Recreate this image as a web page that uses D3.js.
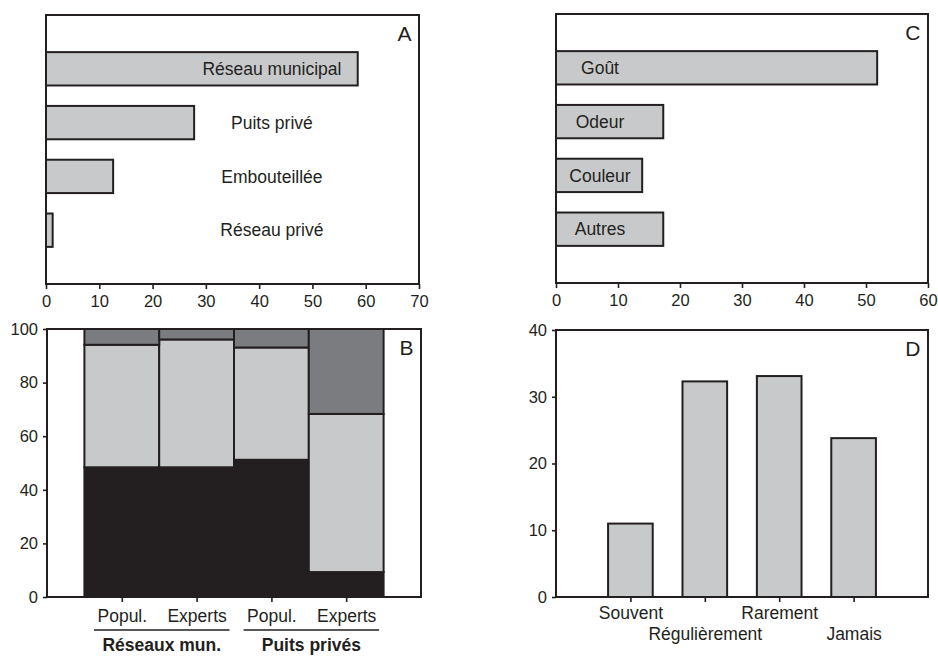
<!DOCTYPE html>
<html>
<head>
<meta charset="utf-8">
<script src="https://cdn.jsdelivr.net/npm/d3@7"></script>
<style>
  body { margin: 0; background: #fff; }
  svg text { font-family: "Liberation Sans", Arial, Helvetica, sans-serif; fill: #231f20; }
</style>
</head>
<body>
<svg id="fig" width="938" height="656"></svg>
<script>
// A — source de l'eau consommée (%)
const sourceCategories = ["Réseau municipal", "Puits privé", "Embouteillée", "Réseau privé"];
const sourceValues = [58.5, 27.8, 12.6, 1.25];
const sourceTicks = [0, 10, 20, 30, 40, 50, 60, 70];

// C — motifs d'insatisfaction (%)
const reasonCategories = ["Goût", "Odeur", "Couleur", "Autres"];
const reasonValues = [51.8, 17.3, 13.9, 17.3];
const reasonTicks = [0, 10, 20, 30, 40, 50, 60];

// B — répartition des réponses (%), population vs experts
const perceptionColumns = ["Popul.", "Experts", "Popul.", "Experts"];
const perceptionGroups = ["Réseaux mun.", "Puits privés"];
const shareLow = [48.4, 48.4, 51.2, 9.3];
const shareMid = [45.7, 47.7, 41.9, 59.0];
const shareHigh = [5.9, 3.9, 6.9, 31.7];
const perceptionTicks = [0, 20, 40, 60, 80, 100];

// D — fréquence (%)
const frequencyCategories = ["Souvent", "Régulièrement", "Rarement", "Jamais"];
const frequencyValues = [11.0, 32.3, 33.1, 23.8];
const frequencyTicks = [0, 10, 20, 30, 40];

const INK = "#231f20", LIGHT = "#c8c9cb", DARK = "#7b7c80";
const TICK_FONT = 16.5, LABEL_FONT = 17.5;
const svg = d3.select("#fig");

function styleAxis(g) {
  g.select(".domain").remove();
  g.selectAll(".tick line").attr("stroke", INK).attr("stroke-width", 1.6);
  g.selectAll(".tick text").style("font-size", TICK_FONT + "px").attr("fill", INK);
}

function drawFrame(g, b) {
  g.append("rect")
    .attr("x", b.left).attr("y", b.top)
    .attr("width", b.right - b.left).attr("height", b.bottom - b.top)
    .attr("fill", "none").attr("stroke", INK).attr("stroke-width", 2);
}

function panelLetter(g, b, letter) {
  g.append("text")
    .attr("x", b.right - 7.5).attr("y", b.top + 25.5)
    .attr("text-anchor", "end")
    .style("font-size", "21px")
    .text(letter);
}

// Horizontal bar panels (A and C)
function horizontalBars(b, cats, vals, ticks, labelAt, letter) {
  const g = svg.append("g");
  const x = d3.scaleLinear().domain([0, ticks[ticks.length - 1]]).range([b.left, b.right]);
  const y = d3.scalePoint().domain(cats).range([b.top, b.bottom]).padding(1);
  const h = y.step() * 0.62;

  g.selectAll("rect.bar").data(cats).join("rect")
    .attr("class", "bar")
    .attr("x", x(0))
    .attr("y", d => y(d) - h / 2)
    .attr("width", (d, i) => x(vals[i]) - x(0))
    .attr("height", h)
    .attr("fill", LIGHT).attr("stroke", INK).attr("stroke-width", 2);

  g.selectAll("text.lab").data(cats).join("text")
    .attr("class", "lab")
    .attr("x", x(labelAt))
    .attr("y", d => y(d))
    .attr("dy", "0.35em")
    .attr("text-anchor", "middle")
    .style("font-size", LABEL_FONT + "px")
    .text(d => d);

  g.append("g")
    .attr("transform", `translate(0,${b.bottom})`)
    .call(d3.axisBottom(x).tickValues(ticks).tickSize(5).tickPadding(6).tickSizeOuter(0))
    .call(styleAxis);

  drawFrame(g, b);
  panelLetter(g, b, letter);
}

horizontalBars({ left: 46, top: 15, right: 419, bottom: 284 },
  sourceCategories, sourceValues, sourceTicks, 42.4, "A");
horizontalBars({ left: 556, top: 14, right: 928, bottom: 283 },
  reasonCategories, reasonValues, reasonTicks, 7.1, "C");

// Panel B — stacked columns
(function () {
  const b = { left: 47, top: 329, right: 421, bottom: 597 };
  const g = svg.append("g");
  const idx = d3.range(perceptionColumns.length);
  const x = d3.scalePoint().domain(idx).range([b.left, b.right]).padding(1);
  const y = d3.scaleLinear().domain([0, 100]).range([b.bottom, b.top]);
  const w = x.step();

  const rows = idx.map(i => ({ i, low: shareLow[i], mid: shareMid[i], high: shareHigh[i] }));
  const keys = ["low", "mid", "high"];
  const fills = { low: INK, mid: LIGHT, high: DARK };
  const series = d3.stack().keys(keys)(rows);

  g.selectAll("g.layer").data(series).join("g")
    .attr("class", "layer")
    .attr("fill", s => fills[s.key])
    .selectAll("rect").data(s => s).join("rect")
    .attr("x", d => x(d.data.i) - w / 2)
    .attr("y", d => y(d[1]))
    .attr("width", w)
    .attr("height", d => y(d[0]) - y(d[1]))
    .attr("stroke", INK).attr("stroke-width", 2);

  g.append("g")
    .attr("transform", `translate(${b.left},0)`)
    .call(d3.axisLeft(y).tickValues(perceptionTicks).tickSize(4).tickPadding(5).tickSizeOuter(0))
    .call(styleAxis);

  const xa = g.append("g")
    .attr("transform", `translate(0,${b.bottom})`)
    .call(d3.axisBottom(x).tickFormat(i => perceptionColumns[i]).tickSize(5).tickPadding(8).tickSizeOuter(0))
    .call(styleAxis);
  xa.selectAll(".tick text").style("font-size", LABEL_FONT + "px");

  drawFrame(g, b);
  panelLetter(g, b, "B");

  // Group brackets under the column labels
  const tickTexts = xa.selectAll(".tick text").nodes();
  perceptionGroups.forEach((name, k) => {
    const first = tickTexts[k * 2].getBBox();
    const last = tickTexts[k * 2 + 1].getBBox();
    const c0 = x(k * 2), c1 = x(k * 2 + 1);
    const x0 = c0 + first.x - 3, x1 = c1 + last.x + last.width + 3;
    g.append("line")
      .attr("x1", x0).attr("x2", x1)
      .attr("y1", 630).attr("y2", 630)
      .attr("stroke", INK).attr("stroke-width", 1.6);
    g.append("text")
      .attr("x", (x0 + x1) / 2).attr("y", 651)
      .attr("text-anchor", "middle")
      .style("font-size", LABEL_FONT + "px")
      .style("font-weight", "bold")
      .text(name);
  });
})();

// Panel D — vertical columns
(function () {
  const b = { left: 556, top: 330, right: 928, bottom: 597 };
  const g = svg.append("g");
  const x = d3.scalePoint().domain(frequencyCategories).range([b.left, b.right]).padding(1);
  const y = d3.scaleLinear().domain([0, 40]).range([b.bottom, b.top]);
  const w = x.step() * 0.6;

  g.selectAll("rect.bar").data(frequencyCategories).join("rect")
    .attr("class", "bar")
    .attr("x", d => x(d) - w / 2)
    .attr("y", (d, i) => y(frequencyValues[i]))
    .attr("width", w)
    .attr("height", (d, i) => y(0) - y(frequencyValues[i]))
    .attr("fill", LIGHT).attr("stroke", INK).attr("stroke-width", 2);

  g.append("g")
    .attr("transform", `translate(${b.left},0)`)
    .call(d3.axisLeft(y).tickValues(frequencyTicks).tickSize(4).tickPadding(5).tickSizeOuter(0))
    .call(styleAxis);

  const xa = g.append("g")
    .attr("transform", `translate(0,${b.bottom})`)
    .call(d3.axisBottom(x).tickSize(5).tickSizeOuter(0))
    .call(styleAxis);
  xa.selectAll(".tick text")
    .style("font-size", LABEL_FONT + "px")
    .attr("dy", null)
    .attr("y", (d, i) => (i % 2 === 0 ? 22 : 43));

  drawFrame(g, b);
  panelLetter(g, b, "D");
})();
</script>
</body>
</html>
